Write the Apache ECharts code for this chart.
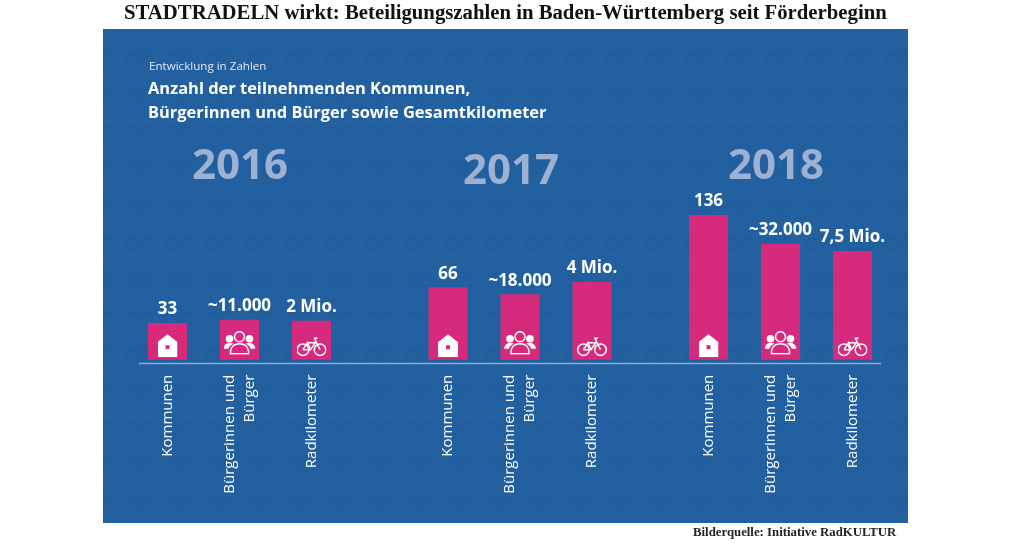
<!DOCTYPE html>
<html><head><meta charset="utf-8">
<style>html,body{margin:0;padding:0;background:#fff}#c{width:1010px;height:544px}</style>
<script src="https://cdn.jsdelivr.net/npm/echarts@6/dist/echarts.min.js"></script>
</head><body><div id="c"></div>
<script>
const years = ['2016','2017','2018'];
const categories = ['Kommunen','Bürgerinnen und\nBürger','Radkilometer'];
const kommunen = [33,66,136];
const buerger = [11000,18000,32000];
const radkilometer = [2,4,7.5];
const kommunenLabels = ['33','66','136'];
const buergerLabels = ['~11.000','~18.000','~32.000'];
const radkilometerLabels = ['2 Mio.','4 Mio.','7,5 Mio.'];
// The original infographic scales every bar on its own: axis maxima per metric and year
const kommunenMax = [180,182,188];
const buergerMax = [55000,55000,55200];
const radkilometerMax = [10.3,10.3,13.8];

const BLUE='#23609f', PINK='#d62a7c', YEAR='#9db1d2';
const FONT='"Open Sans"';
const gridLeft=[131.5,412,672.5];
const svg=s=>'image://data:image/svg+xml;charset=utf-8,'+encodeURIComponent(s);
const icons=[
 {symbol:svg('<svg xmlns="http://www.w3.org/2000/svg" viewBox="0 0 20 23" width="20" height="23"><path fill="#fff" d="M10 0L20 8V23H0V8Z"/><rect x="8" y="11" width="4" height="4" fill="#d62a7c"/></svg>'),size:[20,23],off:-14},
 {symbol:svg('<svg xmlns="http://www.w3.org/2000/svg" viewBox="0 0 32 24" width="32" height="24"><circle cx="16" cy="6" r="5" fill="none" stroke="#fff" stroke-width="1.5"/><circle cx="6" cy="8" r="3.8" fill="#fff"/><circle cx="26" cy="8" r="3.8" fill="#fff"/><path fill="#fff" d="M0 18C1 13 4 12 7 12L10 13C7 14 5 16 5 18ZM32 18C31 13 28 12 25 12L22 13C25 14 27 16 27 18Z"/><path fill="none" stroke="#fff" stroke-width="1.5" d="M7 23V20C8 15 12 13 16 13C20 13 24 15 25 20V23Z"/></svg>'),size:[32,24],off:-17},
 {symbol:svg('<svg xmlns="http://www.w3.org/2000/svg" viewBox="0 0 30 20" width="30" height="20"><g fill="none" stroke="#fff" stroke-width="1.5"><circle cx="6.5" cy="13" r="5.8"/><circle cx="23.5" cy="13" r="5.8"/><path d="M6.5 13L14 13L19.5 5L23.5 13M11 6H19.5M6.5 13L11 6L14 13M19.5 5L18 1.5H21"/></g></svg>'),size:[30,20],off:-13}
];

// faint bicycle pattern of the panel background
const tile=document.createElement('canvas');tile.width=40;tile.height=37;
(function(){const g=tile.getContext('2d');g.fillStyle=BLUE;g.fillRect(0,0,40,37);
 g.strokeStyle='rgba(20,70,130,0.14)';g.lineWidth=1.2;
 [[12,22],[27,22]].forEach(p=>{g.beginPath();g.arc(p[0],p[1],6,0,Math.PI*2);g.stroke();});
 g.beginPath();g.moveTo(12,22);g.lineTo(17,13);g.lineTo(24,13);g.lineTo(27,22);g.stroke();})();

const grid=[],xAxis=[],yAxis=[],series=[];
const titles=[
 {text:'STADTRADELN wirkt: Beteiligungszahlen in Baden-Württemberg seit Förderbeginn',left:119,top:-2,textStyle:{fontFamily:'"Liberation Serif"',fontWeight:'bold',fontSize:20.75,color:'#111'}},
 {text:'Entwicklung in Zahlen',left:144,top:56,textStyle:{fontFamily:FONT,fontWeight:'normal',fontSize:11.6,color:'#dfe7f1'}},
 {text:'Anzahl der teilnehmenden Kommunen,\nBürgerinnen und Bürger sowie Gesamtkilometer',left:143,top:72,textStyle:{fontFamily:FONT,fontWeight:'bold',fontSize:16.45,lineHeight:24,color:'#fff'}},
 {text:'Bilderquelle: Initiative RadKULTUR',left:688,top:521,textStyle:{fontFamily:'"Liberation Serif"',fontWeight:'bold',fontSize:12.8,color:'#222'}}
];
const yearPos=[[235,141],[506,146],[771,141]];
years.forEach((yr,i)=>{
 titles.push({text:yr,left:yearPos[i][0],top:yearPos[i][1],textAlign:'center',textStyle:{fontFamily:FONT,fontWeight:'bold',fontSize:42,color:YEAR}});
 grid.push({left:gridLeft[i],width:216,top:159.7,height:200});
 xAxis.push({type:'category',gridIndex:i,data:categories,axisLine:{show:false},axisTick:{show:false},splitLine:{show:false},
  axisLabel:{rotate:90,interval:0,margin:15,color:'#fff',fontFamily:FONT,fontSize:15,lineHeight:20}});
 const metrics=[[kommunen,kommunenMax,kommunenLabels],[buerger,buergerMax,buergerLabels],[radkilometer,radkilometerMax,radkilometerLabels]];
 metrics.forEach((m,k)=>{
  const axisIndex=yAxis.length;
  yAxis.push({type:'value',gridIndex:i,min:0,max:m[1][i],show:false,splitLine:{show:false}});
  series.push({type:'bar',name:yr+' '+categories[k].replace('\n',' '),xAxisIndex:i,yAxisIndex:axisIndex,barWidth:39,barGap:'-100%',
   itemStyle:{color:PINK},
   label:{show:true,position:'top',distance:5,color:'#fff',fontFamily:FONT,fontWeight:'bold',fontSize:17,formatter:()=>m[2][i]},
   data:categories.map((c,j)=>j===k?m[0][i]:null)});
  series.push({type:'scatter',xAxisIndex:i,yAxisIndex:axisIndex,z:5,silent:true,itemStyle:{opacity:1},
   symbol:icons[k].symbol,symbolSize:icons[k].size,symbolOffset:[0,icons[k].off],
   data:[[k,0]]});
 });
});
const chart=echarts.init(document.getElementById('c'),null,{renderer:'canvas'});
chart.setOption({animation:false,title:titles,grid,xAxis,yAxis,series,tooltip:{show:false},
 graphic:{elements:[
  {type:'rect',silent:true,z:-10,shape:{x:103,y:29,width:805,height:494},style:{fill:{image:tile,repeat:'repeat'}}},
  {type:'line',silent:true,z:-5,shape:{x1:139,y1:363.5,x2:881,y2:363.5},style:{stroke:'#8fa9cf',lineWidth:1.5}}
 ]}});
</script></body></html>
